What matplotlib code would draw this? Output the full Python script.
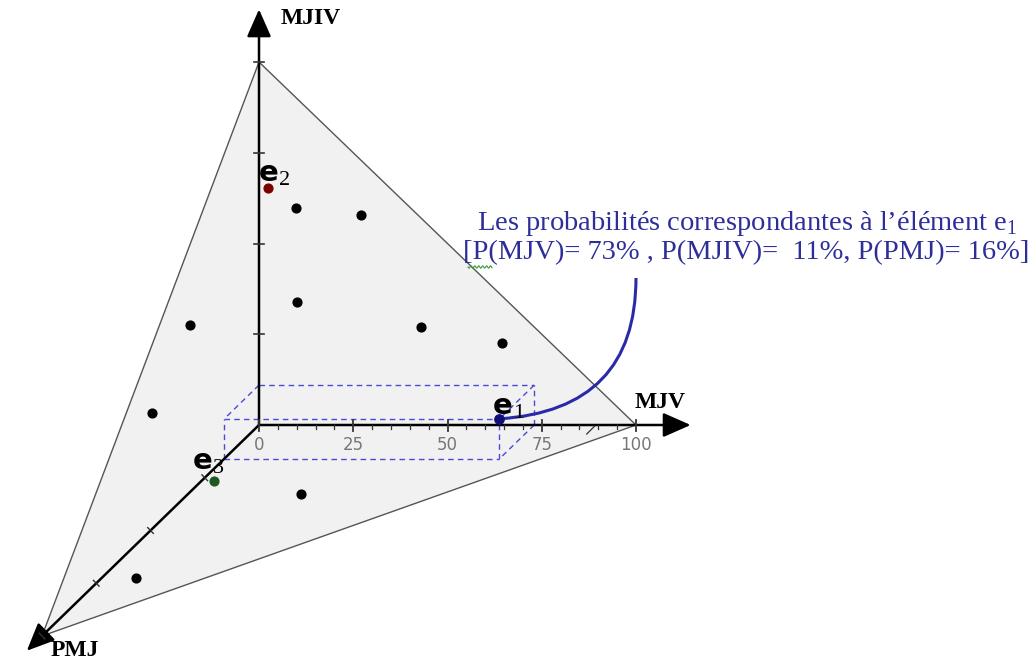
import numpy as np
import matplotlib
matplotlib.use("Agg")
import matplotlib.pyplot as plt
from matplotlib.path import Path
from matplotlib.patches import PathPatch, Polygon

plt.rcParams['mathtext.fontset'] = 'custom'
plt.rcParams['mathtext.rm'] = 'Liberation Serif'

# données : (MJV, MJIV, PMJ) en %
mjv = [11, 18, 31, 25, 6, 51, 68, 5, 22, 40, 14]
mjiv = [74, 68, 62, 49, 52, 35, 26, 37, 19, 10, 5]
pmj = [15, 14, 7, 26, 42, 14, 6, 58, 59, 50, 81]
dot_colors = ['#7a0000', 'k', 'k', 'k', 'k', 'k', 'k', 'k', '#1e5a1e', 'k', 'k']
e1 = (73, 11, 16)
mjv_ticks = [0, 25, 50, 75, 100]

# projection "3D" -> image
O = np.array([259.0, 425.0])
VX = np.array([377.0, 0.0]) / 100     # MJV
VY = np.array([0.0, -363.0]) / 100    # MJIV
VZ = np.array([-217.0, 211.0]) / 100  # PMJ


def proj(a, b, c):
    return O + a * VX + b * VY + c * VZ


fig = plt.figure(figsize=(10.34, 6.65), dpi=100)
ax = fig.add_axes([0, 0, 1, 1])
ax.set_xlim(0, 1034)
ax.set_ylim(665, 0)
ax.axis('off')

# triangle
tri = [proj(100, 0, 0), proj(0, 100, 0), proj(0, 0, 100)]
ax.add_patch(Polygon(tri, closed=True, facecolor='#f1f1f1', edgecolor='#555555', lw=1.0, zorder=1))

# axes
axc = '#333333'
for end in [proj(114.5, 0, 0), proj(0, 114.5, 0), proj(0, 0, 107)]:
    ax.annotate('', xy=end, xytext=O,
                arrowprops=dict(arrowstyle='-|>,head_length=1.7,head_width=0.75', color='black',
                                lw=1.8, shrinkA=0, shrinkB=0), zorder=3)

# graduations MJV
for v in range(0, 101, 5):
    p = proj(v, 0, 0)
    if v % 25 == 0:
        ax.plot([p[0], p[0]], [p[1] - 5, p[1] + 6], color=axc, lw=1.3, zorder=3)
    else:
        ax.plot([p[0], p[0]], [p[1], p[1] + 4], color=axc, lw=0.9, zorder=3)
for v in mjv_ticks:
    p = proj(v, 0, 0)
    ax.text(p[0], p[1] + 20, str(v), ha='center', va='center', color='#777777',
            fontsize=12, family='DejaVu Sans', zorder=3)
# petit trait oblique
p = proj(88, 0, 0)
ax.plot([p[0] - 4, p[0] + 4], [p[1] + 9, p[1] + 1], color=axc, lw=0.9, zorder=3)

# graduations MJIV et PMJ
for v in [25, 50, 75, 100]:
    p = proj(0, v, 0)
    ax.plot([p[0] - 5, p[0] + 5], [p[1], p[1]], color=axc, lw=1.2, zorder=3)
    q = proj(0, 0, v)
    d = np.array([211.0, 217.0]) / np.hypot(211, 217) * 4
    ax.plot([q[0] - d[0], q[0] + d[0]], [q[1] - d[1], q[1] + d[1]], color=axc, lw=1.0, zorder=3)

# boîte en pointillés autour de e1
a, b, c = e1
corners = {}
for i in (0, a):
    for j in (0, b):
        for k in (0, c):
            corners[(i, j, k)] = proj(i, j, k)
edges = []
for key in corners:
    for idx, full in enumerate((a, b, c)):
        if key[idx] == 0:
            other = list(key)
            other[idx] = full
            edges.append((key, tuple(other)))
for s, e in edges:
    if s == (0, 0, 0) and e in [(a, 0, 0), (0, b, 0), (0, 0, c)]:
        continue
    p, q = corners[s], corners[e]
    ax.plot([p[0], q[0]], [p[1], q[1]], color='#4a4ad6', lw=1.0, ls=(0, (4, 3)), zorder=2)

# points
for x, y, z, col in zip(mjv, mjiv, pmj, dot_colors):
    p = proj(x, y, z)
    ax.scatter(p[0], p[1], s=40, color=col, zorder=5)
pe1 = proj(*e1)
ax.scatter(pe1[0], pe1[1], s=45, color='#10107a', zorder=5)

# noms des axes
lab = dict(family='Liberation Serif', fontweight='bold', fontsize=17)
ax.text(281, 18, 'MJIV', ha='left', va='center', **lab)
ax.text(635, 402, 'MJV', ha='left', va='center', **lab)
ax.text(51, 651, 'PMJ', ha='left', va='center', **lab)

# étiquettes e1, e2, e3
def elabel(x, y, n):
    ax.text(x, y, 'e', fontsize=21, fontweight='bold', family='DejaVu Sans', ha='left', va='baseline', zorder=6)
    ax.text(x + 20, y + 4, n, fontsize=16, family='Liberation Serif', ha='left', va='baseline', zorder=6)

elabel(259, 181, '2')
elabel(493, 414, '1')
elabel(193, 469, '3')

# courbe vers le texte
path = Path([pe1, (636, 410), (636, 278)], [Path.MOVETO, Path.CURVE3, Path.CURVE3])
ax.add_patch(PathPatch(path, facecolor='none', edgecolor='#2a2aa8', lw=2.2, zorder=4))

# texte explicatif
tc = '#2e2e9a'
ax.text(747, 223, r'Les probabilités correspondantes à l’élément e$_{1}$', ha='center', va='center',
        color=tc, fontsize=20.5, family='Liberation Serif')
ax.text(746, 253, '[P(MJV)= 73% , P(MJIV)=  11%, P(PMJ)= 16%]', ha='center', va='center',
        color=tc, fontsize=20.5, family='Liberation Serif')
wx = np.linspace(468, 492, 40)
ax.plot(wx, 267 + 1.2 * np.sin((wx - 468) * 1.6), color='#3a9a3a', lw=0.8)

fig.savefig('out.png', dpi=100)
